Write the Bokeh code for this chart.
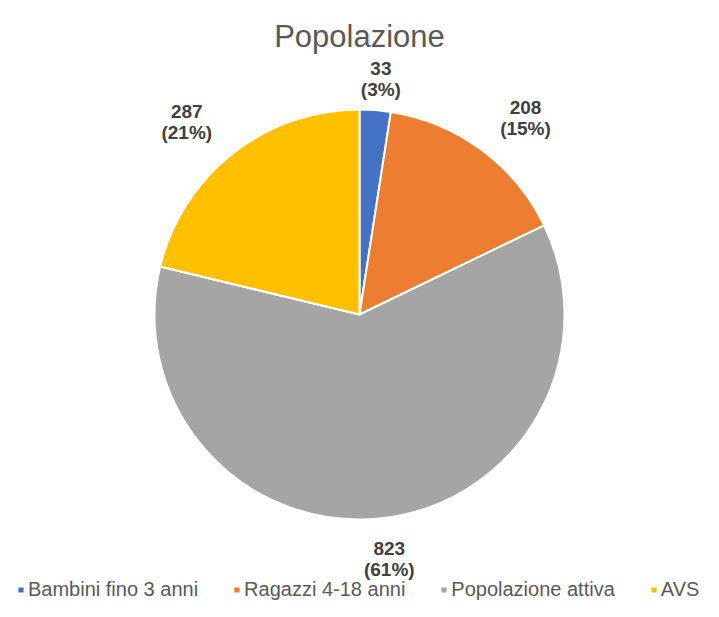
import numpy as np
from bokeh.plotting import figure
from bokeh.models import Range1d, Label, Legend, LegendItem, ColumnDataSource
from bokeh.core.properties import value
from bokeh.embed import file_html
from bokeh.resources import INLINE

# ---- data ----
title_text = "Popolazione"
categories = ["Bambini fino 3 anni", "Ragazzi 4-18 anni", "Popolazione attiva", "AVS"]
values = [33, 208, 823, 287]
percent_labels = ["3%", "15%", "61%", "21%"]
colors = ["#4472C4", "#ED7D31", "#A5A5A5", "#FFC000"]

# ---- layout ----
W, H = 703, 601
FONT = "Liberation Sans"
cx, cy, R = 359, 287, 205

p = figure(width=W, height=H, x_range=Range1d(0, W), y_range=Range1d(0, H),
           output_backend="svg", toolbar_location=None, min_border=0)
p.axis.visible = False
p.grid.visible = False
p.outline_line_color = None
p.background_fill_color = "white"
p.border_fill_color = "white"

vals = np.array(values, dtype=float)
total = vals.sum()
cum_after = np.cumsum(vals)
cum_before = cum_after - vals
start = np.pi / 2 - 2 * np.pi * cum_before / total
end = np.pi / 2 - 2 * np.pi * cum_after / total
mid = (start + end) / 2

# outside-end labels: pushed out horizontally along the angle, vertically by a fixed box offset
lx = cx + (R + 74) * np.cos(mid)
ly = cy + R * np.sin(mid) + 36 * np.sign(np.sin(mid))

src = ColumnDataSource(dict(
    cat=categories, start=start, end=end, color=colors,
    x=[cx] * len(values), y=[cy] * len(values),
    lx=lx, ly_top=ly + 6, ly_bot=ly - 15,
    vtxt=[str(v) for v in values],
    ptxt=["(" + s + ")" for s in percent_labels],
))

r = p.wedge(x="x", y="y", radius=R, start_angle="start", end_angle="end",
            direction="clock", fill_color="color", line_color="white",
            line_width=2, source=src)

for col, ycol in (("vtxt", "ly_top"), ("ptxt", "ly_bot")):
    p.text(x="lx", y=ycol, text=col, source=src, text_align="center",
           text_baseline="alphabetic", text_font=value(FONT),
           text_font_size="19px", text_font_style="bold", text_color="#404040")

p.add_layout(Label(x=cx, y=H - 36, text=title_text, text_align="center",
                   text_baseline="alphabetic", text_font=FONT,
                   text_font_size="31px", text_color="#595959"))

items = [LegendItem(label=categories[i], renderers=[r], index=i) for i in range(len(categories))]
legend = Legend(items=items, orientation="horizontal", location=(16, 0),
                glyph_width=9, glyph_height=9, label_standoff=3, spacing=34,
                padding=0, margin=0, border_line_color=None,
                background_fill_alpha=0, label_text_font=FONT,
                label_text_font_size="20px", label_text_color="#595959",
                label_height=20)
p.add_layout(legend)

open("out.html", "w").write(file_html(p, INLINE))
